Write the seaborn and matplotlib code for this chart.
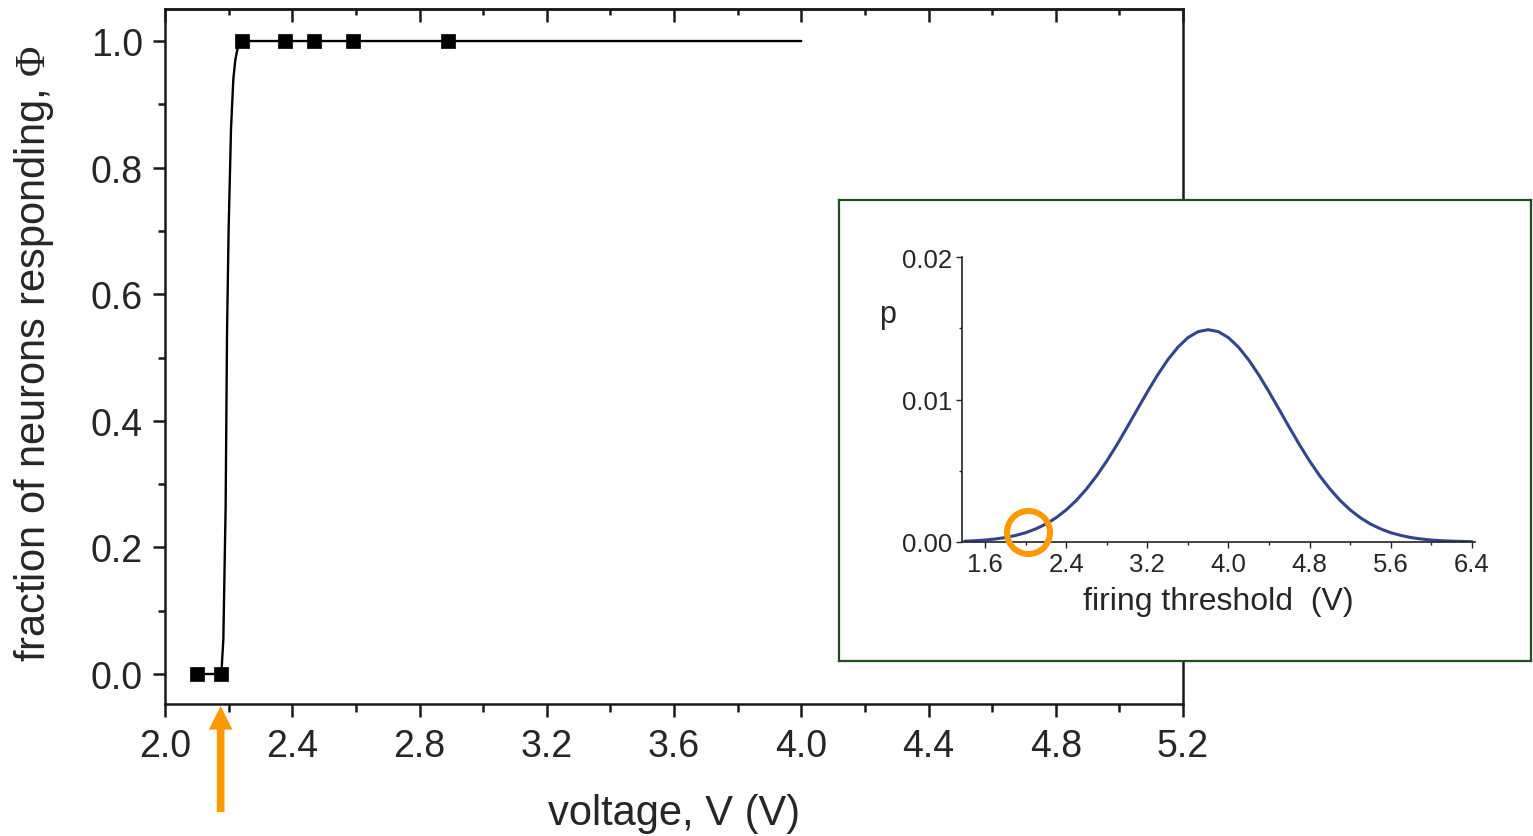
import matplotlib
matplotlib.use('Agg')
import matplotlib.pyplot as plt
from matplotlib.ticker import MultipleLocator, FixedLocator
import seaborn as sns

# ---------------- data ----------------
pts_v = [2.10, 2.175, 2.241, 2.377, 2.468, 2.590, 2.889]
pts_phi = [0, 0, 1, 1, 1, 1, 1]

fit_v = [2.100, 2.175, 2.178, 2.1834, 2.1906, 2.195, 2.200, 2.2075, 2.2148,
         2.221, 2.2276, 2.234, 2.240, 4.000]
fit_phi = [0, 0, 0.008, 0.055, 0.265, 0.54, 0.703, 0.861, 0.94,
           0.97, 0.987, 0.997, 1.0, 1.0]

thr_v = [1.4, 1.5, 1.6, 1.7, 1.8, 1.9, 2.0, 2.1, 2.2, 2.3, 2.4, 2.5, 2.6, 2.7,
         2.8, 2.9, 3.0, 3.1, 3.2, 3.3, 3.4, 3.5, 3.6, 3.7, 3.8, 3.9, 4.0, 4.1,
         4.2, 4.3, 4.4, 4.5, 4.6, 4.7, 4.8, 4.9, 5.0, 5.1, 5.2, 5.3, 5.4, 5.5,
         5.6, 5.7, 5.8, 5.9, 6.0, 6.1, 6.2, 6.3, 6.4]
thr_p = [0.00006, 0.00009, 0.00014, 0.00021, 0.00031, 0.00046, 0.00065,
         0.00092, 0.00126, 0.00170, 0.00225, 0.00292, 0.00372, 0.00464,
         0.00568, 0.00682, 0.00804, 0.00929, 0.01053, 0.01171, 0.01277,
         0.01366, 0.01434, 0.01476, 0.01490, 0.01476, 0.01434, 0.01366,
         0.01277, 0.01171, 0.01053, 0.00929, 0.00804, 0.00682, 0.00568,
         0.00464, 0.00372, 0.00292, 0.00225, 0.00170, 0.00126, 0.00092,
         0.00065, 0.00046, 0.00031, 0.00021, 0.00014, 0.00009, 0.00006,
         0.00004, 0.00002]

main_xticks = [2.0, 2.4, 2.8, 3.2, 3.6, 4.0, 4.4, 4.8, 5.2]
main_yticks = [0.0, 0.2, 0.4, 0.6, 0.8, 1.0]
inset_xticks = [1.6, 2.4, 3.2, 4.0, 4.8, 5.6, 6.4]
inset_yticks = [0.00, 0.01, 0.02]

arrow_v = 2.175
circle_v, circle_p = 2.024, 0.0007

# ---------------- style ----------------
sns.set_style('ticks')
plt.rcParams['font.family'] = ['Liberation Sans', 'DejaVu Sans']
plt.rcParams['mathtext.fontset'] = 'custom'
plt.rcParams['mathtext.rm'] = 'Liberation Serif'
plt.rcParams['mathtext.it'] = 'Liberation Serif:italic'
plt.rcParams['mathtext.bf'] = 'Liberation Serif:bold'

W, H = 1533, 837
fig = plt.figure(figsize=(W / 100, H / 100), dpi=100)
fig.patch.set_facecolor('white')

def fx(px):
    return px / W

def fy(py):
    return 1 - py / H

INK = '#1a1a1a'

# ---------------- main axes ----------------
ax = fig.add_axes([fx(165), fy(705), fx(1183) - fx(165), fy(10) - fy(705)])
sns.lineplot(x=fit_v, y=fit_phi, ax=ax, color='black', linewidth=1.7,
             sort=False, estimator=None)
sns.scatterplot(x=pts_v, y=pts_phi, ax=ax, marker='s', s=95, color='black',
                edgecolor='black', linewidth=0.5, zorder=5)

ax.set_xlim(2.0, 5.2)
ax.set_ylim(-0.0474, 1.0506)
ax.xaxis.set_major_locator(FixedLocator(main_xticks))
ax.xaxis.set_minor_locator(MultipleLocator(0.2))
ax.yaxis.set_major_locator(FixedLocator(main_yticks))
ax.yaxis.set_minor_locator(MultipleLocator(0.1))
ax.set_xticklabels([f'{v:.1f}' for v in main_xticks])
ax.set_yticklabels([f'{v:.1f}' for v in main_yticks])

for s in ax.spines.values():
    s.set_linewidth(1.8)
    s.set_color(INK)
    s.set_visible(True)

ax.tick_params(axis='x', which='both', bottom=True, top=False, direction='out',
               labelsize=27, pad=8, width=1.8, color=INK)
ax.tick_params(axis='x', which='major', length=9)
ax.tick_params(axis='x', which='minor', length=5.5)
ax.tick_params(axis='y', which='both', left=True, right=False, direction='out',
               labelsize=27, pad=7, width=1.8, color=INK)
ax.tick_params(axis='y', which='major', length=9)
ax.tick_params(axis='y', which='minor', length=5)

# mirrored ticks on the top spine, pointing inward
top = ax.secondary_xaxis('top')
top.xaxis.set_major_locator(FixedLocator(main_xticks))
top.xaxis.set_minor_locator(MultipleLocator(0.2))
top.tick_params(axis='x', which='both', direction='in', labeltop=False,
                width=1.8, color=INK)
top.tick_params(axis='x', which='major', length=9.5)
top.tick_params(axis='x', which='minor', length=4.5)
top.spines['top'].set_linewidth(1.8)
top.spines['top'].set_color(INK)

ax.set_xlabel('voltage, V (V)', fontsize=30)
ax.xaxis.set_label_coords(0.5, -0.128)
ax.set_ylabel(r'fraction of neurons responding, $\mathrm{\Phi}$', fontsize=30)
ax.yaxis.set_label_coords(-0.107, 0.506)

# orange arrow under the threshold point
ax.annotate('', xy=(arrow_v, fy(707)), xycoords=('data', 'figure fraction'),
            xytext=(arrow_v, fy(813)), textcoords=('data', 'figure fraction'),
            annotation_clip=False,
            arrowprops=dict(facecolor='#FF9900', edgecolor='none', width=5.5,
                            headwidth=17, headlength=17, shrink=0))

# ---------------- inset frame ----------------
frame = fig.add_axes([fx(839), fy(662), fx(1531) - fx(839), fy(201) - fy(662)])
frame.set_facecolor('white')
frame.set_xticks([])
frame.set_yticks([])
for s in frame.spines.values():
    s.set_color('#1f4f1f')
    s.set_linewidth(1.6)

# ---------------- inset axes ----------------
ins = fig.add_axes([fx(962), fy(543), fx(1475) - fx(962), fy(258) - fy(543)])
ins.set_facecolor('none')
sns.lineplot(x=thr_v, y=thr_p, ax=ins, color='#34448A', linewidth=2.2,
             sort=False, estimator=None)
ins.plot([circle_v], [circle_p], marker='o', markersize=31, markerfacecolor='none',
         markeredgecolor='#FF9900', markeredgewidth=4.3, clip_on=False, zorder=6)

ins.set_xlim(1.373, 6.43)
ins.set_ylim(0, 0.02)
ins.xaxis.set_major_locator(FixedLocator(inset_xticks))
ins.xaxis.set_minor_locator(MultipleLocator(0.4))
ins.yaxis.set_major_locator(FixedLocator(inset_yticks))
ins.yaxis.set_minor_locator(MultipleLocator(0.005))
ins.set_xticklabels([f'{v:.1f}' for v in inset_xticks])
ins.set_yticklabels([f'{v:.2f}' for v in inset_yticks])
ins.spines['top'].set_visible(False)
ins.spines['right'].set_visible(False)
for side in ('left', 'bottom'):
    ins.spines[side].set_linewidth(1.2)
    ins.spines[side].set_color('#222222')
ins.tick_params(which='both', direction='out', labelsize=18.5, width=1.0,
                color='#222222', pad=3)
ins.tick_params(which='major', length=4)
ins.tick_params(which='minor', length=2.5)

ins.set_xlabel('firing threshold  (V)', fontsize=23)
ins.xaxis.set_label_coords(0.499, -0.155)
ins.set_ylabel('p', fontsize=22, rotation=0, ha='center', va='center')
ins.yaxis.set_label_coords(-0.146, 0.80)

fig.savefig('out.png', dpi=100)
